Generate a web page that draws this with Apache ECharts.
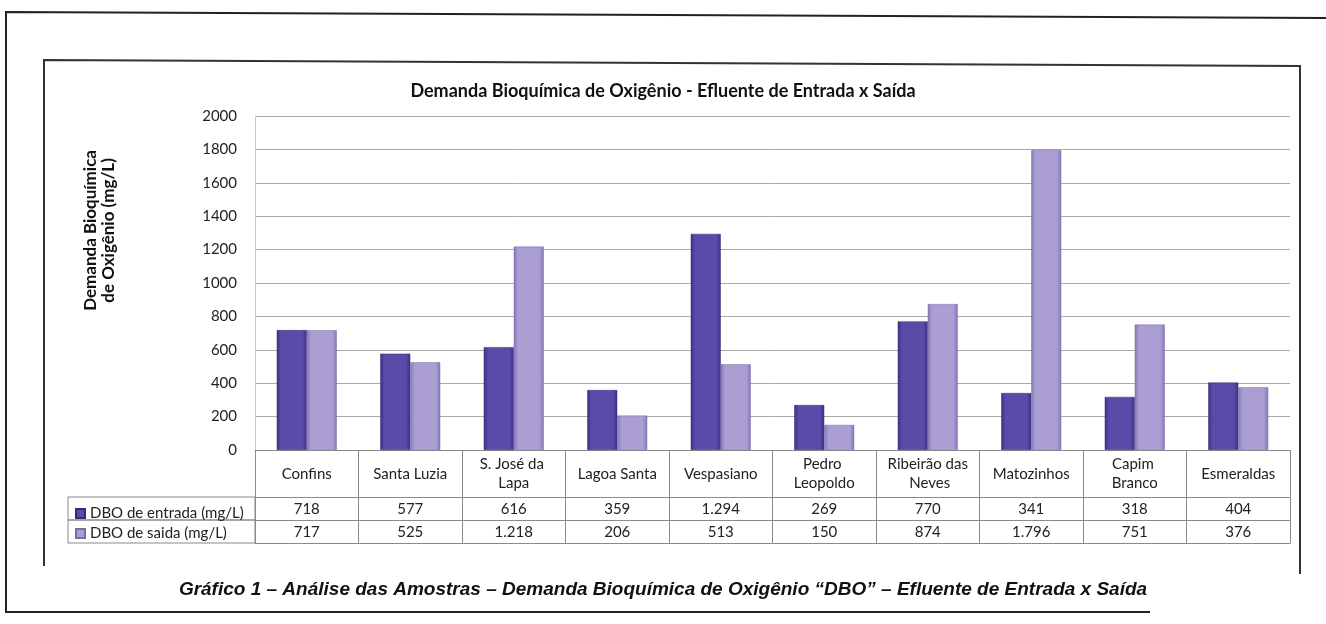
<!DOCTYPE html>
<html>
<head>
<meta charset="utf-8">
<script src="https://cdn.jsdelivr.net/npm/echarts@6/dist/echarts.min.js"></script>
<style>
  html, body { margin: 0; padding: 0; background: #fff; }
  #chart { width: 1326px; height: 624px; }
</style>
</head>
<body>
<div id="chart"></div>
<script>
// dados
const categorias = ['Confins', 'Santa Luzia', 'S. José da Lapa', 'Lagoa Santa', 'Vespasiano',
  'Pedro Leopoldo', 'Ribeirão das Neves', 'Matozinhos', 'Capim Branco', 'Esmeraldas'];
const dboEntrada = [718, 577, 616, 359, 1294, 269, 770, 341, 318, 404];
const dboSaida = [717, 525, 1218, 206, 513, 150, 874, 1796, 751, 376];
const nomesSeries = ['DBO de entrada (mg/L)', 'DBO de saida (mg/L)'];
const eixoY = { min: 0, max: 2000, interval: 200 };

const fonte = 'Lato, "Open Sans", sans-serif';
const cinza = '#8a8a8a';

// 1.294 em vez de 1294
const fmt = n => String(n).replace(/\B(?=(\d{3})+(?!\d))/g, '.');

const gradiente = (borda, meio) => new echarts.graphic.LinearGradient(0, 0, 1, 0, [
  { offset: 0, color: borda },
  { offset: 0.15, color: meio },
  { offset: 0.85, color: meio },
  { offset: 1, color: borda }
]);

const chart = echarts.init(document.getElementById('chart'));

const linhaTabela = (dados, offset) => ({
  type: 'category',
  data: dados,
  position: 'bottom',
  offset: offset,
  axisLine: { show: true, lineStyle: { color: cinza, width: 1 } },
  axisTick: { show: false },
  axisLabel: {
    interval: 0, margin: 12, verticalAlign: 'middle',
    fontFamily: fonte, fontSize: 15, color: '#222'
  }
});

chart.setOption({
  animation: false,
  title: {
    text: 'Demanda Bioquímica de Oxigênio - Efluente de Entrada x Saída',
    left: 'center', top: 77,
    textStyle: { fontFamily: fonte, fontSize: 18, fontWeight: 'bold', color: '#111' }
  },
  legend: {
    data: nomesSeries,
    orient: 'vertical',
    left: 70, top: 501,
    itemWidth: 9, itemHeight: 9, itemGap: 5,
    icon: 'rect',
    textStyle: { fontFamily: fonte, fontSize: 15, color: '#222' }
  },
  grid: { left: 255, right: 36, top: 116, bottom: 174 },
  xAxis: [
    {
      type: 'category',
      data: categorias,
      position: 'bottom',
      axisLine: { show: true, lineStyle: { color: cinza, width: 1 } },
      axisTick: { show: true, length: 93, lineStyle: { color: cinza } },
      axisLabel: {
        interval: 0, margin: 24, verticalAlign: 'middle',
        width: 89, overflow: 'break', lineHeight: 19,
        fontFamily: fonte, fontSize: 15, color: '#222'
      }
    },
    linhaTabela(dboEntrada.map(fmt), 47),
    linhaTabela(dboSaida.map(fmt), 70),
    Object.assign(linhaTabela(categorias, 93), { axisLabel: { show: false } })
  ],
  yAxis: {
    type: 'value',
    min: eixoY.min, max: eixoY.max, interval: eixoY.interval,
    axisLine: { show: true, lineStyle: { color: '#c8c8c8' } },
    axisTick: { show: false },
    axisLabel: { margin: 18, fontFamily: fonte, fontSize: 15, color: '#222', formatter: v => String(v) },
    splitLine: { lineStyle: { color: '#a8a8a8', width: 1 } }
  },
  series: [
    {
      name: nomesSeries[0],
      type: 'bar',
      data: dboEntrada,
      barWidth: 30,
      barGap: '0%',
      itemStyle: { color: gradiente('#3d3188', '#5a4ba8'), borderColor: '#342a78', borderWidth: 0.5 }
    },
    {
      name: nomesSeries[1],
      type: 'bar',
      data: dboSaida,
      barWidth: 30,
      barGap: '0%',
      itemStyle: { color: gradiente('#8677b8', '#ab9ed3'), borderColor: '#7a6cab', borderWidth: 0.5 }
    }
  ],
  graphic: [
    // moldura da página
    { type: 'polyline', shape: { points: [[1326, 18], [6, 12], [6, 612], [1150, 612]] },
      style: { stroke: '#222', lineWidth: 2, fill: null } },
    // moldura do gráfico
    { type: 'polyline', shape: { points: [[44, 566], [44, 60], [1300, 66], [1300, 574]] },
      style: { stroke: '#333', lineWidth: 2, fill: null } },
    // células do cabeçalho das linhas da tabela
    { type: 'rect', shape: { x: 68, y: 497, width: 187, height: 23 },
      style: { stroke: cinza, lineWidth: 1, fill: null } },
    { type: 'rect', shape: { x: 68, y: 520, width: 187, height: 23 },
      style: { stroke: cinza, lineWidth: 1, fill: null } },
    // eixo y
    { type: 'text', left: 82, top: 150, rotation: Math.PI / 2,
      style: { text: 'Demanda Bioquímica\nde Oxigênio (mg/L)', fontFamily: fonte, fontSize: 17,
        fontWeight: 'bold', fill: '#111', textAlign: 'center', lineHeight: 18 } },
    // legenda da figura
    { type: 'text', left: 'center', top: 580,
      style: { text: 'Gráfico 1 – Análise das Amostras – Demanda Bioquímica de Oxigênio “DBO” – Efluente de Entrada x Saída',
        fontFamily: 'Liberation Sans, Arial, sans-serif', fontSize: 19, fontStyle: 'italic',
        fontWeight: 'bold', fill: '#111' } }
  ]
});

window.onresize = function () {
  chart.resize();
};
</script>
</body>
</html>
